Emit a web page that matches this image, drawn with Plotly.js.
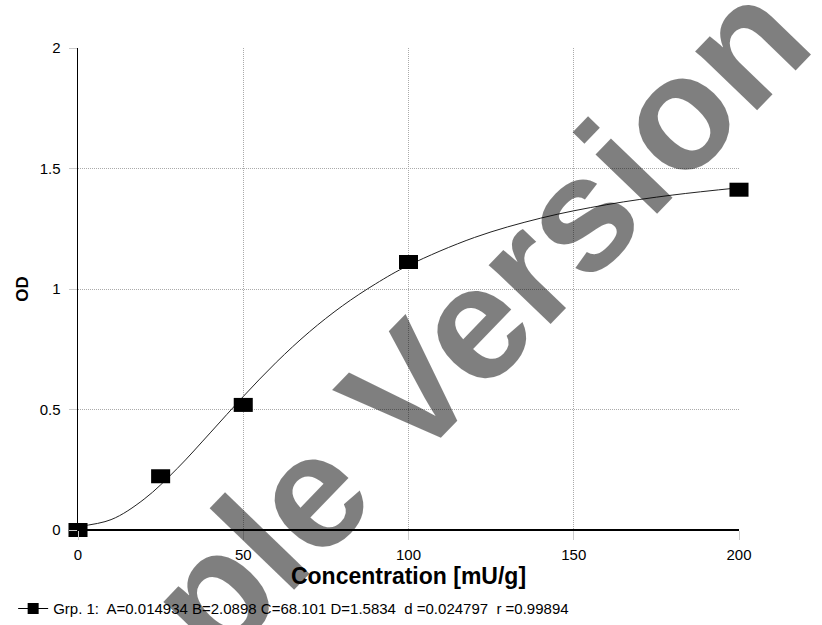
<!DOCTYPE html>
<html><head><meta charset="utf-8">
<script src="https://cdn.plot.ly/plotly-3.0.1.min.js"></script>
<style>html,body{margin:0;padding:0;background:#fff}</style>
</head><body><div id="chart" style="width:822px;height:625px"></div>
<script>
// Measured standards
var concentration = [0, 25, 50, 100, 200];
var od = [0.0, 0.223, 0.519, 1.112, 1.412];
// Fitted curve
var curveX = [0, 10, 20, 30, 40, 50, 60, 70, 80, 90, 100, 120, 140, 160, 180, 200];
var curveY = [0.015, 0.043, 0.128, 0.255, 0.403, 0.554, 0.696, 0.822, 0.930, 1.021, 1.098, 1.214, 1.294, 1.350, 1.390, 1.420];
var xTicks = [0, 50, 100, 150, 200];
var yTicks = [0, 0.5, 1, 1.5, 2];
var yTickText = ['0', '0.5', '1', '1.5', '2'];
var legendText = 'Grp. 1:&nbsp; A=0.014934 B=2.0898 C=68.101 D=1.5834&nbsp; d =0.024797&nbsp; r =0.99894';

var traces = [
  {x: curveX, y: curveY, mode: 'lines', line: {color: '#222', width: 1, shape: 'spline'}, showlegend: false, hoverinfo: 'skip'},
  {x: concentration, y: od, mode: 'markers', cliponaxis: false,
   marker: {symbol: 'line-ew', size: 13.6, color: '#000', line: {color: '#000', width: 14}}, showlegend: false},
  {x: [null], y: [null], mode: 'lines+markers', name: legendText,
   line: {color: '#000', width: 1}, marker: {symbol: 'square', size: 11, color: '#000'}}
];

var layout = {
  width: 822, height: 625,
  margin: {l: 78, r: 83, t: 48, b: 95},
  paper_bgcolor: '#fff', plot_bgcolor: '#fff',
  font: {family: 'Liberation Sans, Arial, sans-serif', color: '#000'},
  xaxis: {
    range: [0, 200], tickvals: xTicks, ticktext: xTicks.map(String),
    showgrid: true, gridcolor: '#aaa', griddash: '1px,1px', gridwidth: 1,
    ticks: 'outside', ticklen: 9, tickcolor: '#ccc', tickfont: {size: 15}, ticklabelstandoff: 2,
    zeroline: false, showline: false, automargin: false,
    title: {text: '<b>Concentration [mU/g]</b>', font: {size: 23}, standoff: 4}
  },
  yaxis: {
    range: [0, 2], tickvals: yTicks, ticktext: yTickText,
    showgrid: true, gridcolor: '#aaa', griddash: '1px,1px', gridwidth: 1,
    ticks: 'outside', ticklen: 8, tickcolor: '#ccc', tickfont: {size: 15}, ticklabelstandoff: 5,
    zeroline: true, zerolinecolor: '#000', zerolinewidth: 1.5,
    showline: true, linecolor: '#000', linewidth: 1.5, automargin: false,
    title: {text: '<b>OD</b>', font: {size: 17}, standoff: 6}
  },
  showlegend: true,
  legend: {x: 0.016, xref: 'container', xanchor: 'left', y: 0.026, yref: 'container', yanchor: 'middle',
    orientation: 'h', font: {size: 15}, bgcolor: 'rgba(0,0,0,0)'},
  annotations: [{
    text: '<b>Sample Version</b>', xref: 'paper', yref: 'paper',
    x: 0.425, y: 0.183, xanchor: 'center', yanchor: 'middle', showarrow: false, textangle: -46,
    font: {size: 162, color: 'rgba(0,0,0,0.5)', family: 'Liberation Sans, Arial, sans-serif'}
  }]
};
Plotly.newPlot('chart', traces, layout, {displayModeBar: false, staticPlot: true});
</script></body></html>
